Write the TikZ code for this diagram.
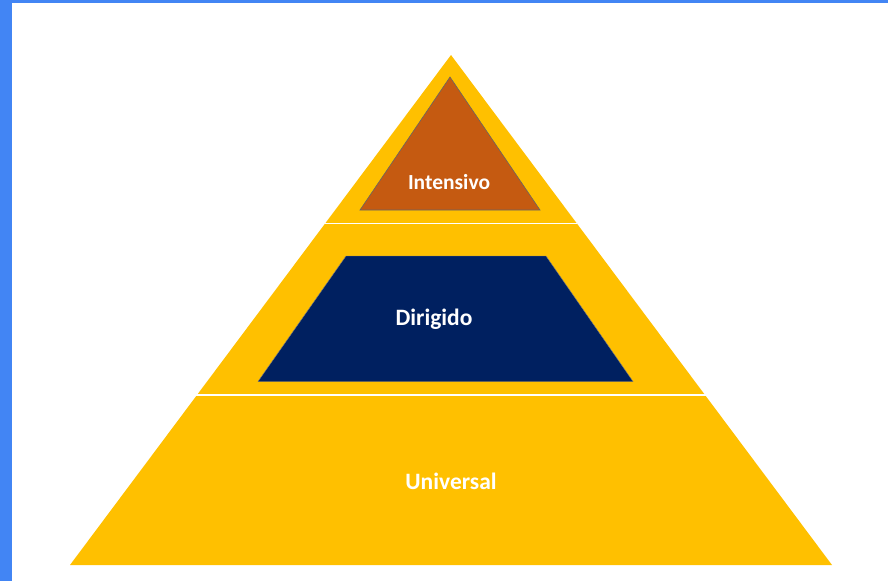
\documentclass[tikz,border=0pt]{standalone}
\usepackage{fontspec}
\setmainfont{Carlito}
\definecolor{pyellow}{HTML}{FFC000}
\definecolor{porange}{HTML}{C55A11}
\definecolor{pnavy}{HTML}{002060}
\definecolor{pblue}{HTML}{4285F4}
\begin{document}
\begin{tikzpicture}[x=1pt,y=-1pt,
  lbl/.style={text=white,font=\bfseries,inner sep=0pt},
  sepline/.style={draw=white,line width=1.5pt}]
\useasboundingbox (0,0) rectangle (888,581);
\fill[white] (0,0) rectangle (888,581);
\fill[pblue] (0,0) rectangle (12,581);
\fill[pblue] (0,0) rectangle (888,2.5);
% big pyramid
\coordinate (apex) at (451,55);
\coordinate (bl) at (70,565);
\coordinate (br) at (832,565);
\fill[pyellow] (apex) -- (br) -- (bl) -- cycle;
% separators
\draw[sepline] (325,223.5) -- (577,223.5);
\draw[sepline] (196,395) -- (706,395);
% intensivo triangle
\filldraw[fill=porange,draw=black!60,line width=0.6pt] (450,77) -- (540,210) -- (360,210) -- cycle;
% dirigido trapezoid
\filldraw[fill=pnavy,draw=black!50,line width=0.4pt] (346,256) -- (546,256) -- (633,381.5) -- (258,381.5) -- cycle;
\node[lbl,font=\fontsize{21.5}{24}\selectfont\bfseries] (int) at (449,182) {Intensivo};
\node[lbl,font=\fontsize{23.5}{26}\selectfont\bfseries] (dir) at (434,319) {Dirigido};
\node[lbl,font=\fontsize{23.5}{26}\selectfont\bfseries] (uni) at (451,481) {Universal};
\end{tikzpicture}
\end{document}
